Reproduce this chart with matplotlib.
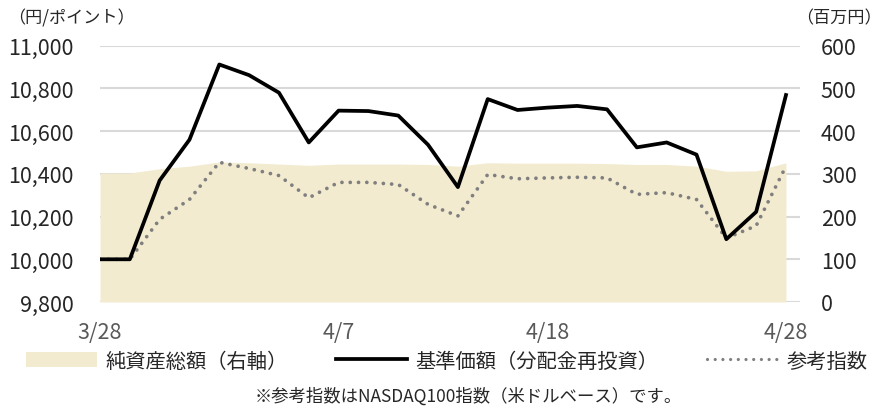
import matplotlib
matplotlib.use("Agg")
import matplotlib.pyplot as plt
from matplotlib.patches import Patch
from matplotlib.lines import Line2D

plt.rcParams['font.family'] = ['Noto Sans CJK JP', 'DejaVu Sans']

dates = ["3/28", "3/29", "3/30", "3/31", "4/3", "4/4", "4/5", "4/6",
         "4/7", "4/10", "4/11", "4/12", "4/13", "4/14", "4/17", "4/18",
         "4/19", "4/20", "4/21", "4/24", "4/25", "4/26", "4/27", "4/28"]
shown_dates = ["3/28", "4/7", "4/18", "4/28"]

nav = [10000, 10000, 10369, 10560, 10912, 10862, 10780, 10547,
       10696, 10694, 10673, 10536, 10338, 10750, 10699, 10710,
       10718, 10702, 10524, 10547, 10490, 10094, 10222, 10769]

index = [10000, 10000, 10187, 10280, 10454, 10425, 10392, 10288,
         10360, 10360, 10350, 10257, 10203, 10397, 10377, 10381,
         10384, 10381, 10304, 10312, 10280, 10099, 10157, 10436]

assets = [302, 302, 312, 318, 328, 326, 323, 320,
          323, 323, 323, 322, 318, 326, 325, 325,
          325, 324, 322, 322, 318, 306, 307, 326]

x = list(range(len(dates)))

DOTS = (0, (0.01, 2.2))

fig = plt.figure(figsize=(8.83, 4.10), dpi=100)
ax2 = fig.add_axes([100/883, 1-303/410, 700/883, 256.3/410])
ax = ax2.twinx()
ax.yaxis.tick_left()
ax.set_zorder(ax2.get_zorder() + 1)
ax.patch.set_visible(False)

# right axis: net assets + grid
ax2.fill_between(x, 0, assets, color="#F3EBCF", lw=0, zorder=2)
ax2.set_ylim(0, 600)
ax2.set_yticks(range(0, 601, 100))
ax2.yaxis.tick_right()
ax2.grid(axis="y", color="#D9D9D9", lw=1.5, zorder=0)
ax2.set_axisbelow(True)

# left axis: price lines
ax.plot(x, index, color="#7F7F7F", lw=2.7, linestyle=DOTS,
        dash_capstyle="round", zorder=3)
ax.plot(x, nav, color="black", lw=2.7, zorder=4)
ax.set_ylim(9800, 11000)
ax.set_yticks(range(9800, 11001, 200))
ax.set_yticklabels([f"{v:,}" for v in range(9800, 11001, 200)])

ax2.set_xlim(0, 23.47)
ax2.set_xticks([dates.index(d) for d in shown_dates])
ax2.set_xticklabels(shown_dates)

for a in (ax, ax2):
    for s in a.spines.values():
        s.set_visible(False)
ax.tick_params(axis="y", length=0, pad=19, labelsize=15.5, labelcolor="#262626")
ax2.tick_params(axis="y", length=0, pad=15, labelsize=15.5, labelcolor="#262626")
ax2.tick_params(axis="x", length=0, pad=14, labelsize=15.5, labelcolor="#595959")

fig.text(8/883, 1-18/410, "（円/ポイント）", fontsize=12.3, color="#262626",
         ha="left", va="center")
fig.text(882/883, 1-18/410, "（百万円）", fontsize=12.3, color="#262626",
         ha="right", va="center")

handles = [Patch(facecolor="#F3EBCF", edgecolor="none"),
           Line2D([], [], color="black", lw=2.7),
           Line2D([], [], color="#7F7F7F", lw=2.3, linestyle=(0, (0.01, 2.4)),
                  dash_capstyle="round")]
labels = ["純資産総額（右軸）", "基準価額（分配金再投資）", "参考指数"]
fig.legend(handles, labels, loc="center", bbox_to_anchor=(0.506, 1-362/410),
           ncol=3, frameon=False, fontsize=14.6, handlelength=3.5,
           handleheight=0.7, handletextpad=0.4, columnspacing=2.4,
           labelcolor="#262626")

fig.text(468/883, 1-397/410, "※参考指数はNASDAQ100指数（米ドルベース）です。",
         fontsize=12.5, color="#262626", ha="center", va="center")

fig.savefig("out.png", dpi=100)
